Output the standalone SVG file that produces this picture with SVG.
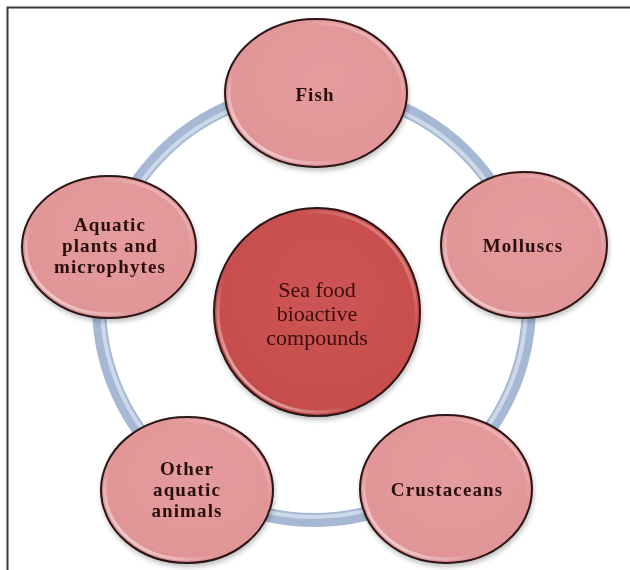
<svg xmlns="http://www.w3.org/2000/svg" width="630" height="570" viewBox="0 0 630 570">
  <defs>
    <radialGradient id="gPink" cx="0.55" cy="0.4" r="0.65">
      <stop offset="0" stop-color="#e59c9d"/>
      <stop offset="0.85" stop-color="#e19597"/>
      <stop offset="1" stop-color="#d98a8c"/>
    </radialGradient>
    <radialGradient id="gRed" cx="0.55" cy="0.4" r="0.65">
      <stop offset="0" stop-color="#cd5453"/>
      <stop offset="0.85" stop-color="#c84e4e"/>
      <stop offset="1" stop-color="#bd4545"/>
    </radialGradient>
    <linearGradient id="gShine" x1="0" y1="1" x2="1" y2="0">
      <stop offset="0" stop-color="#ffffff" stop-opacity="0.85"/>
      <stop offset="0.35" stop-color="#ffffff" stop-opacity="0"/>
      <stop offset="0.7" stop-color="#ffffff" stop-opacity="0"/>
      <stop offset="1" stop-color="#ffffff" stop-opacity="0.5"/>
    </linearGradient>
    <filter id="shadow" x="-20%" y="-20%" width="140%" height="140%">
      <feGaussianBlur in="SourceAlpha" stdDeviation="2.5"/>
      <feOffset dx="1" dy="3" result="b"/>
      <feComponentTransfer><feFuncA type="linear" slope="0.25"/></feComponentTransfer>
      <feMerge><feMergeNode/><feMergeNode in="SourceGraphic"/></feMerge>
    </filter>
  </defs>
  <style>
    .frame { stroke: #3a3a3a; stroke-width: 2; fill: none; }
    .node { stroke: #2b1414; stroke-width: 2; }
    .pink { fill: url(#gPink); }
    .red { fill: url(#gRed); }
    .shine { fill: none; stroke: url(#gShine); stroke-width: 3; }
    .lbl { font-family: "Liberation Serif", "Times New Roman", serif; font-size: 19px; font-weight: bold; fill: #2a1010; text-anchor: middle; letter-spacing: 1.1px; }
    .ctr { font-family: "Liberation Serif", "Times New Roman", serif; font-size: 22px; fill: #3a0d0d; text-anchor: middle; }
  </style>
  <rect x="0" y="0" width="630" height="570" fill="#ffffff"/>
  <path class="frame" d="M7.5,570 V7.5 H630"/>

  <g id="connectors">
    <circle cx="314" cy="305" r="215" fill="none" stroke="#a6b8d4" stroke-width="14"/>
    <circle cx="314" cy="305" r="212" fill="none" stroke="#d6e1ef" stroke-width="4" opacity="0.8"/>
  </g>

  <g id="center" filter="url(#shadow)">
    <ellipse class="node red" cx="317" cy="312" rx="103" ry="104"/>
    <ellipse class="shine" cx="317" cy="312" rx="99" ry="100"/>
    <text class="ctr" x="317" y="297">Sea food</text>
    <text class="ctr" x="317" y="321">bioactive</text>
    <text class="ctr" x="317" y="345">compounds</text>
  </g>

  <g id="fish" filter="url(#shadow)">
    <ellipse class="node pink" cx="316" cy="93" rx="91" ry="74"/>
    <ellipse class="shine" cx="316" cy="93" rx="87" ry="70"/>
    <text class="lbl" x="315" y="101">Fish</text>
  </g>

  <g id="molluscs" filter="url(#shadow)">
    <ellipse class="node pink" cx="524" cy="245" rx="83" ry="73"/>
    <ellipse class="shine" cx="524" cy="245" rx="79" ry="69"/>
    <text class="lbl" x="523" y="252">Molluscs</text>
  </g>

  <g id="crustaceans" filter="url(#shadow)">
    <ellipse class="node pink" cx="446" cy="489" rx="86" ry="74"/>
    <ellipse class="shine" cx="446" cy="489" rx="82" ry="70"/>
    <text class="lbl" x="447" y="496">Crustaceans</text>
  </g>

  <g id="other-aquatic-animals" filter="url(#shadow)">
    <ellipse class="node pink" cx="187" cy="490" rx="86" ry="73"/>
    <ellipse class="shine" cx="187" cy="490" rx="82" ry="69"/>
    <text class="lbl" x="187" y="475">Other</text>
    <text class="lbl" x="187" y="496">aquatic</text>
    <text class="lbl" x="187" y="517">animals</text>
  </g>

  <g id="aquatic-plants" filter="url(#shadow)">
    <ellipse class="node pink" cx="109" cy="247" rx="87" ry="71"/>
    <ellipse class="shine" cx="109" cy="247" rx="83" ry="67"/>
    <text class="lbl" x="110" y="231">Aquatic</text>
    <text class="lbl" x="110" y="252">plants and</text>
    <text class="lbl" x="110" y="273">microphytes</text>
  </g>
</svg>
